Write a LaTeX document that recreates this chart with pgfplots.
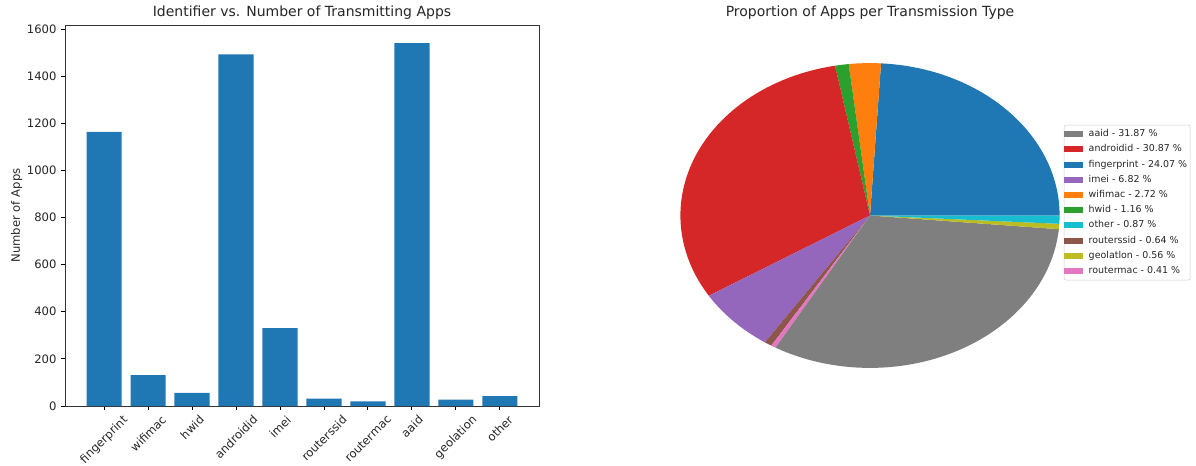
\documentclass[border=0pt]{standalone}
\usepackage{fontspec}
\setmainfont{DejaVu Sans}
\usepackage{graphicx}
\usepackage{pgfplots}
\pgfplotsset{compat=1.18}
\definecolor{tabblue}{HTML}{1F77B4}
\definecolor{taborange}{HTML}{FF7F0E}
\definecolor{tabgreen}{HTML}{2CA02C}
\definecolor{tabred}{HTML}{D62728}
\definecolor{tabpurple}{HTML}{9467BD}
\definecolor{tabbrown}{HTML}{8C564B}
\definecolor{tabpink}{HTML}{E377C2}
\definecolor{tabgray}{HTML}{7F7F7F}
\definecolor{tabolive}{HTML}{BCBD22}
\definecolor{tabcyan}{HTML}{17BECF}
\definecolor{txt}{HTML}{262626}
\newcommand{\rl}[1]{\rotatebox{45}{#1}}
% pie slices from the percentages
\def\slices{}
\gdef\cum{0}
\foreach \p/\c in {24.07/tabblue, 2.72/taborange, 1.16/tabgreen, 30.87/tabred, 6.82/tabpurple, 0.64/tabbrown, 0.41/tabpink, 31.87/tabgray, 0.56/tabolive, 0.87/tabcyan}{%
  \pgfmathsetmacro\a{\cum/99.99*360}%
  \pgfmathsetmacro\newcum{\cum+\p}%
  \pgfmathsetmacro\b{\newcum/99.99*360}%
  \xdef\slices{\unexpanded\expandafter{\slices}\noexpand\fill[\c] (axis cs:0,0) -- (axis cs:{cos(\a)},{sin(\a)}) arc[start angle=\a, end angle=\b, x radius=142.2pt, y radius=114.3pt] -- cycle;}%
  \xdef\cum{\newcum}%
}
\begin{document}
\begin{tikzpicture}
\path[use as bounding box] (0pt,0pt) rectangle (897pt,348.75pt);
\begin{axis}[
  at={(48.75pt,44.25pt)}, anchor=south west, scale only axis,
  width=355.5pt, height=285.75pt,
  xmin=-0.89, xmax=9.89, ymin=0, ymax=1617,
  ybar, bar width=0.8,
  xtick={0,...,9},
  xticklabels={\rl{fingerprint},\rl{wifimac},\rl{hwid},\rl{androidid},\rl{imei},\rl{routerssid},\rl{routermac},\rl{aaid},\rl{geolation},\rl{other}},
  xticklabel style={anchor=north, inner sep=0pt, yshift=-3.1pt},
  ytick={0,200,...,1600},
  yticklabel style={inner sep=0pt, xshift=-3.1pt},
  tick pos=left, tick align=outside, major tick length=3.1pt,
  tick style={black, line width=0.7pt},
  axis line style={line width=0.7pt, black!80},
  ticklabel style={font=\fontsize{8.7}{10}\selectfont, text=txt},
  /pgf/number format/assume math mode=true,
  /pgf/number format/1000 sep={},
  scaled y ticks=false,
  ylabel={Number of Apps},
  ylabel style={font=\fontsize{8.7}{10}\selectfont, text=txt},
  title={Identifier vs. Number of Transmitting Apps},
  title style={font=\fontsize{10.5}{12}\selectfont, text=txt, at={(0.5,1)}, anchor=base, yshift=0.5pt},
]
\addplot[fill=tabblue, draw=none] coordinates {(0,1163) (1,131) (2,56) (3,1492) (4,330) (5,31) (6,20) (7,1540) (8,27) (9,42)};
\end{axis}
\begin{axis}[
  at={(474.75pt,44.25pt)}, anchor=south west, scale only axis,
  width=355.5pt, height=285.75pt,
  xmin=-1.25, xmax=1.25, ymin=-1.25, ymax=1.25,
  axis lines=none,
  title={Proportion of Apps per Transmission Type},
  title style={font=\fontsize{10.5}{12}\selectfont, text=txt, at={(0.5,1)}, anchor=base, yshift=0.5pt},
  legend image code/.code={\fill[#1, draw=none, sharp corners] (0pt,-2.25pt) rectangle (14pt,2.25pt); \path (16pt,0pt);},
  legend cell align=left,
  legend style={at={(0.909,0.534)}, anchor=west,
    font=\fontsize{7.1}{8.5}\selectfont, text=txt,
    draw=black!20, rounded corners=1.5pt,
    inner xsep=0.25pt, inner ysep=1.1pt,
    nodes={inner xsep=2pt, inner ysep=2.15pt, text height=5.5pt, text depth=1.6pt},
    row sep=0pt},
]
\slices
\addlegendimage{fill=tabgray}\addlegendentry{aaid - 31.87 \%}
\addlegendimage{fill=tabred}\addlegendentry{androidid - 30.87 \%}
\addlegendimage{fill=tabblue}\addlegendentry{fingerprint - 24.07 \%}
\addlegendimage{fill=tabpurple}\addlegendentry{imei - 6.82 \%}
\addlegendimage{fill=taborange}\addlegendentry{wifimac - 2.72 \%}
\addlegendimage{fill=tabgreen}\addlegendentry{hwid - 1.16 \%}
\addlegendimage{fill=tabcyan}\addlegendentry{other - 0.87 \%}
\addlegendimage{fill=tabbrown}\addlegendentry{routerssid - 0.64 \%}
\addlegendimage{fill=tabolive}\addlegendentry{geolatlon - 0.56 \%}
\addlegendimage{fill=tabpink}\addlegendentry{routermac - 0.41 \%}
\end{axis}
\end{tikzpicture}
\end{document}
